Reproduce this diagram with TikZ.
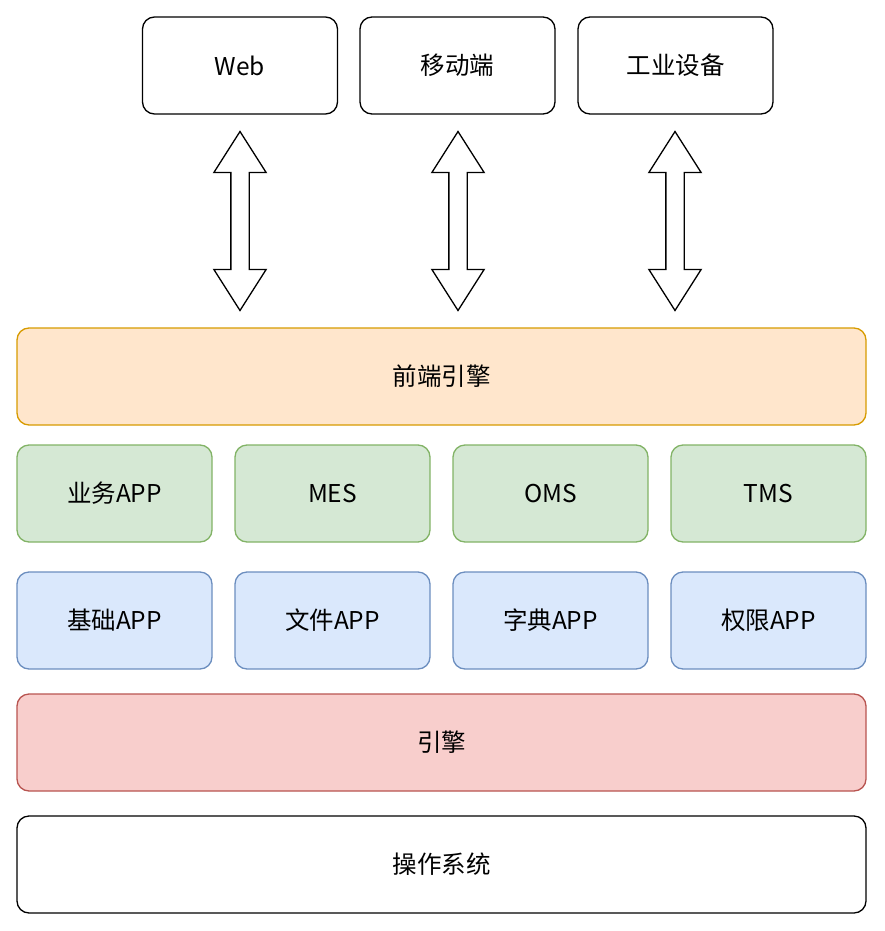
\documentclass[tikz,border=0pt]{standalone}
\usepackage{fontspec}
\setmainfont{Noto Sans CJK SC}
\usetikzlibrary{shapes.arrows}
\definecolor{orangefill}{HTML}{FFE6CC}
\definecolor{orangeline}{HTML}{D79B00}
\definecolor{greenfill}{HTML}{D5E8D4}
\definecolor{greenline}{HTML}{82B366}
\definecolor{bluefill}{HTML}{DAE8FC}
\definecolor{blueline}{HTML}{6C8EBF}
\definecolor{redfill}{HTML}{F8CECC}
\definecolor{redline}{HTML}{B85450}

\begin{document}
\begin{tikzpicture}[x=1pt, y=-1pt,
    box/.style={rectangle, rounded corners=12pt, draw, line width=1.3pt, inner sep=0pt,
      minimum width=195pt, minimum height=97pt, font=\fontsize{24.5}{28}\selectfont},
    wide/.style={box, minimum width=849pt},
    front/.style={fill=orangefill, draw=orangeline},
    biz/.style={fill=greenfill, draw=greenline},
    base/.style={fill=bluefill, draw=blueline},
    engine/.style={fill=redfill, draw=redline},
    link/.style={double arrow, draw, line width=1.3pt, rotate=90, inner xsep=0pt,
      inner ysep=8.5pt, minimum height=179pt, double arrow head extend=17pt,
      double arrow tip angle=65}]
    \useasboundingbox (0,0) rectangle (885,931);

    \node[box] (web) at (240,65.5) {Web};
    \node[box] (mobile) at (457.5,65.5) {移动端};
    \node[box] (device) at (675.5,65.5) {工业设备};

    \node[wide, front] (frontend) at (441.5,376.5) {前端引擎};

    \node[box, biz] (bizapp) at (114.5,493.5) {业务APP};
    \node[box, biz] (mes) at (332.5,493.5) {MES};
    \node[box, biz] (oms) at (550.5,493.5) {OMS};
    \node[box, biz] (tms) at (768.5,493.5) {TMS};

    \node[box, base] (baseapp) at (114.5,620.5) {基础APP};
    \node[box, base] (fileapp) at (332.5,620.5) {文件APP};
    \node[box, base] (dictapp) at (550.5,620.5) {字典APP};
    \node[box, base] (authapp) at (768.5,620.5) {权限APP};

    \node[wide, engine] (engine) at (441.5,742.5) {引擎};
    \node[wide] (os) at (441.5,864.5) {操作系统};

    \node[link] (webfront) at (240,221) {};
    \node[link] (mobilefront) at (458,221) {};
    \node[link] (devicefront) at (675,221) {};
\end{tikzpicture}
\end{document}
